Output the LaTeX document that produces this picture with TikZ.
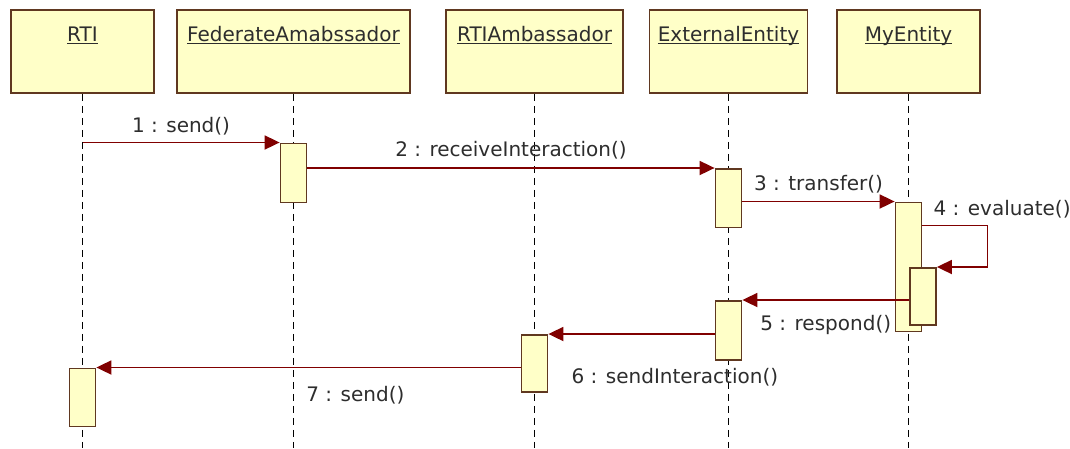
\documentclass[tikz,border=0pt]{standalone}
\usepackage{fontspec}
\setmainfont{DejaVu Sans}
\usepackage{tikz}
\usetikzlibrary{arrows.meta}
\definecolor{headfill}{RGB}{255,255,200}
\definecolor{boxline}{RGB}{96,56,32}
\definecolor{msgred}{RGB}{128,0,0}
\definecolor{textgray}{RGB}{45,45,45}
\newcommand{\objname}[1]{\underline{\smash{#1}}}
\tikzset{
    object/.style={draw=boxline, line width=1.8pt, fill=headfill, anchor=north, inner ysep=0pt, text height=32pt, text depth=51pt},
    lifeline/.style={line width=1.5pt, dash pattern=on 7pt off 5pt},
    activation/.style={draw=boxline, line width=1.8pt, fill=headfill, anchor=north, minimum width=26pt, inner sep=0pt},
    msg/.style={draw=msgred, line width=1.8pt, -{Triangle[length=15pt, width=14pt]}}
}

\begin{document}
\begin{tikzpicture}[x=1pt, y=-1pt, font=\fontsize{20}{24}\selectfont, text=textgray]
    \useasboundingbox (0,0) rectangle (1070,448);

    \node[object, minimum width=143pt] (rti) at (82.5,9) {\objname{RTI}};
    \node[object, minimum width=233pt] (fed) at (293.5,9) {\objname{FederateAmabssador}};
    \node[object, minimum width=177pt] (rtiamb) at (534.5,9) {\objname{RTIAmbassador}};
    \node[object, minimum width=158pt] (ext) at (728.5,9) {\objname{ExternalEntity}};
    \node[object, minimum width=143pt] (my) at (908.5,9) {\objname{MyEntity}};

    \coordinate (bottom) at (0,448);
    \foreach \obj in {rti,fed,rtiamb,ext,my}
        \draw[lifeline] (\obj.south) -- (\obj.south |- bottom);

    \node[activation, minimum height=59pt] (fedact) at (293.5,142.5) {};
    \node[activation, minimum height=58.5pt] (extact) at (728.5,168) {};
    \node[activation, minimum height=129pt] (myact) at (908.5,201.5) {};
    \node[activation, minimum height=57pt] (myself) at (923,267) {};
    \node[activation, minimum height=59pt] (extret) at (728.5,300) {};
    \node[activation, minimum height=57pt] (rtiambact) at (534.5,334) {};
    \node[activation, minimum height=58pt] (rtiact) at (82.5,367.5) {};

    \draw[msg] (rti |- fedact.north) -- (fedact.north west) node[midway, anchor=base, yshift=10pt] {1 : send()};
    \draw[msg] (fedact.east |- extact.north) -- (extact.north west) node[midway, anchor=base, yshift=12pt] {2 : receiveInteraction()};
    \draw[msg] (extact.east |- myact.north) -- (myact.north west) node[midway, anchor=base, yshift=11pt] {3 : transfer()};
    \draw[msg] ([yshift=-24pt]myact.north east) node[anchor=base west, xshift=7pt, yshift=10pt] {4 : evaluate()} -- ++(65,0) |- (myself.north east);
    \draw[msg] (myself.west |- extret.north) -- (extret.north east) node[midway, anchor=base, yshift=-30pt] {5 : respond()};
    \draw[msg] (extret.west |- rtiambact.north) -- (rtiambact.north east) node[pos=1, anchor=base west, xshift=19pt, yshift=-49pt] {6 : sendInteraction()};
    \draw[msg] (rtiambact.west |- rtiact.north) -- (rtiact.north east) node[pos=0.515, anchor=base west, yshift=-34pt] {7 : send()};
\end{tikzpicture}
\end{document}
